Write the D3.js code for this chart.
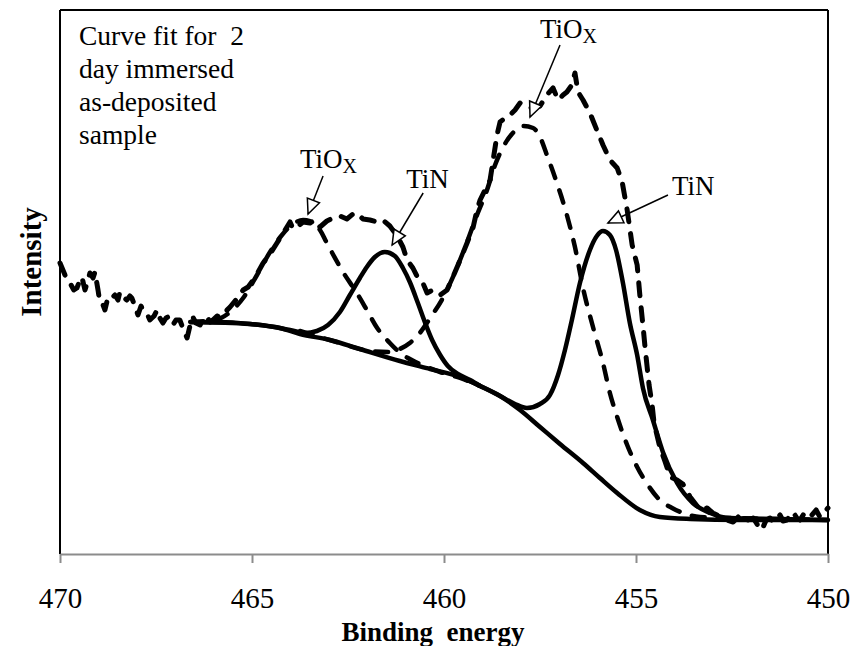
<!DOCTYPE html>
<html><head><meta charset="utf-8">
<script src="https://cdn.jsdelivr.net/npm/d3@7"></script>
<style>
html,body{margin:0;padding:0;background:#fff;}
svg{display:block;}
svg text{font-family:"Liberation Serif",serif !important;fill:#000;}
</style></head>
<body>
<svg id="chart" width="852" height="646"></svg>
<script>
// ---------- DATA (binding energy eV, intensity a.u.) ----------
const xTicks = [470, 465, 460, 455, 450];
const xLabel = "Binding  energy";
const yLabel = "Intensity";
const noteLines = ["Curve fit for  2", "day immersed", "as-deposited", "sample"];

const rawData = [
[470.00,291],[469.87,279],[469.74,271],[469.64,264],[469.56,266],[469.48,274],[469.43,277],[469.35,264],[469.27,274],[469.22,281],
[469.14,276],[469.09,282],[469.01,264],[468.96,251],[468.88,249],[468.83,244],[468.75,257],[468.65,256],[468.57,259],[468.49,254],
[468.44,262],[468.33,256],[468.26,254],[468.18,258],[468.13,256],[468.05,248],[467.97,239],[467.89,248],[467.84,244],[467.73,240],
[467.66,234],[467.55,238],[467.47,244],[467.40,236],[467.32,231],[467.24,236],[467.19,237],[467.11,232],[467.06,229],[466.98,234],
[466.88,234],[466.80,226],[466.69,216],[466.61,229],[466.54,237],[466.46,231],[466.35,229],[466.28,236],[466.17,237],[466.09,232],
[466.02,234],[465.91,238],[465.83,237],[465.70,242],[465.57,247],[465.42,254],[465.23,264],[465.10,267],[464.97,274],[464.84,282],
[464.71,291],[464.53,300],[464.35,311],[464.22,319],[464.09,327],[464.01,332],[463.93,325],[463.83,327],[463.67,332],[463.49,331],
[463.36,334],[463.23,327],[463.05,333],[462.89,336],[462.71,338],[462.53,335],[462.37,340],[462.27,341],[462.11,335],[461.93,334],
[461.74,332],[461.59,334],[461.41,328],[461.22,318],[461.07,307],[460.96,294],[460.81,286],[460.68,276],[460.55,271],[460.44,261],
[460.29,264],[460.10,259],[459.92,264],[459.77,277],[459.58,294],[459.40,311],[459.24,327],[459.14,344],[459.06,354],[458.93,364],
[458.80,374],[458.72,394],[458.62,419],[458.54,432],[458.41,436],[458.28,439],[458.15,444],[458.02,451],[457.84,447],[457.68,446],
[457.50,448],[457.32,459],[457.16,466],[457.03,454],[456.90,459],[456.80,462],[456.67,469],[456.59,481],[456.51,462],[456.38,454],
[456.20,441],[456.02,424],[455.86,409],[455.68,394],[455.49,386],[455.36,372],[455.23,344],[455.10,309],[454.97,289],[454.90,259],
[454.82,229],[454.77,209],[454.71,187],[454.66,169],[454.58,149],[454.53,131],[454.38,107],[454.24,92],[454.11,77],[453.93,74],
[453.78,70],[453.59,57],[453.33,44],[453.15,46],[453.00,41],[452.89,39],[452.81,37],[452.63,34],[452.47,32],[452.34,37],
[452.21,32],[452.08,34],[451.95,36],[451.85,30],[451.77,24],[451.69,27],[451.61,34],[451.51,36],[451.43,32],[451.33,36],
[451.25,39],[451.17,33],[451.07,34],[450.99,38],[450.91,42],[450.81,36],[450.73,34],[450.63,40],[450.52,36],[450.42,39],
[450.31,44],[450.21,37],[450.10,42],[450.00,46]
];

const baseline = [
[466.61,232],[465.83,232],[465.05,230],[464.27,226],[463.75,220],[462.97,214],[462.19,205],[461.15,193],[460.36,185],[459.58,177],
[459.06,168],[458.54,158],[458.02,144],[457.50,127],[456.98,110],[456.38,91],[455.94,76],[455.49,61],[454.90,44],[454.38,37],
[453.59,35],[452.29,34],[450.00,34]
];

const tinPeak1 = [
[466.61,232],[465.05,230],[464.01,224],[463.62,221],[463.31,223],[463.02,229],[462.71,242],[462.45,259],[462.19,276],[462.01,287],
[461.80,297],[461.54,302],[461.28,298],[461.07,286],[460.89,272],[460.68,251],[460.49,231],[460.31,214],[460.10,199],[459.90,188],
[459.64,180],[459.32,174],[459.06,168]
];

const tinPeak2 = [
[459.58,177],[459.06,168],[458.54,158],[458.15,150],[457.84,146],[457.50,150],[457.24,159],[457.03,179],[456.85,204],[456.67,234],
[456.46,271],[456.20,304],[456.02,318],[455.86,323],[455.68,319],[455.52,304],[455.34,271],[455.16,231],[454.97,199],[454.82,166],
[454.56,134],[454.30,102],[453.93,71],[453.52,51],[453.07,41],[452.55,36],[451.25,35],[450.00,34]
];

const tioxPeak1 = [
[466.61,232],[465.96,234],[465.57,242],[465.23,256],[464.87,279],[464.53,302],[464.22,319],[463.93,330],[463.67,334],[463.44,332],
[463.23,324],[463.05,311],[462.63,282],[462.27,261],[462.01,244],[461.74,226],[461.41,211],[461.20,203],[460.94,196],[460.63,190],
[460.10,182],[459.58,176],[459.06,168]
];

const tioxPeak2 = [
[463.75,223],[462.71,211],[461.93,203],[461.46,202],[461.15,205],[460.89,211],[460.63,221],[460.36,236],[460.03,256],[459.71,282],
[459.45,307],[459.14,339],[458.88,364],[458.67,389],[458.46,407],[458.23,420],[457.94,428],[457.68,426],[457.50,417],[457.32,399],
[457.06,371],[456.80,339],[456.59,307],[456.38,266],[456.12,227],[455.86,191],[455.68,161],[455.49,137],[455.23,109],[454.97,87],
[454.69,69],[454.38,54],[454.06,46],[453.78,41],[453.33,37],[452.55,36],[451.25,35],[450.00,34]
];

// peak annotations: label, subscript, arrow tip (E, I)
const peakLabels = [
  {main:"TiO", sub:"X", tipE:463.54, tipI:340},
  {main:"TiN", sub:"",  tipE:461.35, tipI:309},
  {main:"TiO", sub:"X", tipE:457.76, tipI:437},
  {main:"TiN", sub:"",  tipE:455.73, tipI:331}
];

// ---------- LAYOUT ----------
const FONT = '"Liberation Serif", serif';
const svg = d3.select("#chart");
const L = 60, R = 828, T = 10, B = 554;
const x = d3.scaleLinear().domain([470, 450]).range([L, R]);
const y = d3.scaleLinear().domain([0, 544]).range([B, T]);

const line = d3.line().x(d => x(d[0])).y(d => y(d[1]));
const smooth = d3.line().x(d => x(d[0])).y(d => y(d[1])).curve(d3.curveMonotoneX);

// frame
svg.append("line").attr("x1",L).attr("x2",R).attr("y1",T).attr("y2",T).attr("stroke","#000").attr("stroke-width",2);
svg.append("line").attr("x1",L).attr("x2",L).attr("y1",T).attr("y2",B).attr("stroke","#000").attr("stroke-width",2);
svg.append("line").attr("x1",R).attr("x2",R).attr("y1",T).attr("y2",B).attr("stroke","#000").attr("stroke-width",2);

// x axis
const ax = svg.append("g").attr("transform",`translate(0,${B})`)
  .call(d3.axisBottom(x).tickValues(xTicks).tickFormat(d3.format("d")).tickSizeInner(9).tickSizeOuter(0).tickPadding(24));
ax.attr("font-family", FONT);
ax.select(".domain").attr("stroke","#8c8c8c").attr("stroke-width",2);
ax.selectAll(".tick line").attr("stroke","#8c8c8c").attr("stroke-width",2);
ax.selectAll(".tick text").style("font-family",FONT).attr("font-size",29).attr("fill","#000");

// curves
const g = svg.append("g").attr("fill","none").attr("stroke","#000");
g.append("path").datum(baseline).attr("d",smooth).attr("stroke-width",4.5);
g.append("path").datum(tinPeak1).attr("d",smooth).attr("stroke-width",4.5);
g.append("path").datum(tinPeak2).attr("d",smooth).attr("stroke-width",4.5);
g.append("path").datum(tioxPeak1).attr("d",smooth).attr("stroke-width",4.5)
  .attr("stroke-dasharray","13 13").attr("stroke-linecap","round");
g.append("path").datum(tioxPeak2).attr("d",smooth).attr("stroke-width",4.5)
  .attr("stroke-dasharray","13 13").attr("stroke-linecap","round");
g.append("path").datum(rawData).attr("d",line).attr("stroke-width",5)
  .attr("stroke-dasharray","13 12").attr("stroke-linecap","round").attr("stroke-linejoin","round");

// annotations (arrow tail offsets / label positions in px relative to tip)
const annot = [
  {dx:15, dy:-38, lx:-8,  ly:-46},
  {dx:31, dy:-52, lx:14,  ly:-57},
  {dx:30, dy:-72, lx:10,  ly:-79},
  {dx:60, dy:-28, lx:64,  ly:-28}
];
peakLabels.forEach((p,i) => {
  const tx = x(p.tipE), ty = y(p.tipI), a = annot[i];
  const sx = tx + a.dx, sy = ty + a.dy;
  svg.append("line").attr("x1",sx).attr("y1",sy).attr("x2",tx).attr("y2",ty).attr("stroke","#000").attr("stroke-width",1.5);
  const ang = Math.atan2(sy-ty, sx-tx), len = 16, w = 0.42;
  const p1 = [tx + len*Math.cos(ang+w), ty + len*Math.sin(ang+w)];
  const p2 = [tx + len*Math.cos(ang-w), ty + len*Math.sin(ang-w)];
  svg.append("path").attr("d",`M${p1}L${tx},${ty}L${p2}Z`).attr("fill","#fff").attr("stroke","#000").attr("stroke-width",1.5);
  const t = svg.append("text").attr("x", tx + a.lx).attr("y", ty + a.ly).attr("font-size",27).style("font-family",FONT);
  t.append("tspan").text(p.main);
  if (p.sub) t.append("tspan").attr("font-size",20).attr("dy",5).text(p.sub);
});

// note text
const note = svg.append("text").attr("x",79).attr("y",45).attr("font-size",27.5)
  .style("font-family",FONT).style("white-space","pre");
noteLines.forEach((s,i) => note.append("tspan").attr("x",79).attr("y",45+33*i).text(s));

// axis titles
svg.append("text").attr("x",433).attr("y",641).attr("text-anchor","middle").attr("font-size",27)
  .style("font-family",FONT).attr("font-weight","bold").style("white-space","pre").text(xLabel);
svg.append("text").attr("transform","translate(41,262) rotate(-90)").attr("text-anchor","middle")
  .style("font-family",FONT).attr("font-size",29).attr("font-weight","bold").text(yLabel);
</script>
</body></html>
